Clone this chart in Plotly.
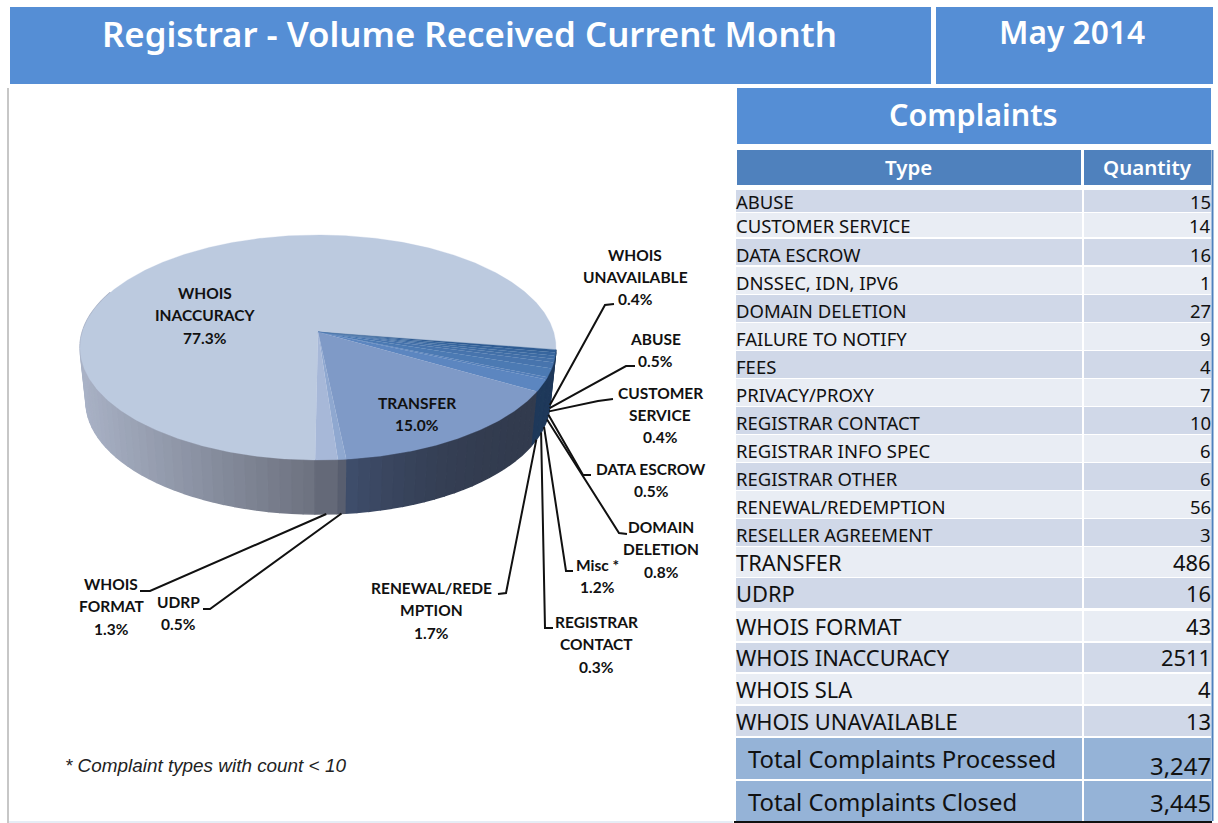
import math
import plotly.graph_objects as go

# ---------- data ----------
TYPES = ["ABUSE", "CUSTOMER SERVICE", "DATA ESCROW", "DNSSEC, IDN, IPV6", "DOMAIN DELETION",
         "FAILURE TO NOTIFY", "FEES", "PRIVACY/PROXY", "REGISTRAR CONTACT", "REGISTRAR INFO SPEC",
         "REGISTRAR OTHER", "RENEWAL/REDEMPTION", "RESELLER AGREEMENT", "TRANSFER", "UDRP",
         "WHOIS FORMAT", "WHOIS INACCURACY", "WHOIS SLA", "WHOIS UNAVAILABLE"]
QUANTITIES = [15, 14, 16, 1, 27, 9, 4, 7, 10, 6, 6, 56, 3, 486, 16, 43, 2511, 4, 13]
TOTAL_CLOSED = 3445
MISC_LIMIT = 10
PIE_ORDER = ["WHOIS INACCURACY", "WHOIS UNAVAILABLE", "ABUSE", "CUSTOMER SERVICE", "DATA ESCROW",
             "DOMAIN DELETION", "Misc", "REGISTRAR CONTACT", "RENEWAL/REDEMPTION", "TRANSFER",
             "UDRP", "WHOIS FORMAT"]

count = dict(zip(TYPES, QUANTITIES))
total = sum(QUANTITIES)
misc = sum(q for q in QUANTITIES if q < MISC_LIMIT)
pie_values = [misc if n == "Misc" else count[n] for n in PIE_ORDER]

# ---------- style / layout ----------
BLUE, HEAD, ODD, EVEN, TOT = "#558ed5", "#4f81bd", "#d0d8e8", "#e9edf4", "#95b3d7"
TABLE_FONT = "Noto Sans"
LABEL_FONT = "Lato"
TOP = {"WHOIS INACCURACY": "#bccadf", "WHOIS UNAVAILABLE": "#2f5c93", "ABUSE": "#38669e",
       "CUSTOMER SERVICE": "#3e6ca4", "DATA ESCROW": "#4370a8", "DOMAIN DELETION": "#4774ad",
       "Misc": "#4c7ab3", "REGISTRAR CONTACT": "#547fb9", "RENEWAL/REDEMPTION": "#5c86c0",
       "TRANSFER": "#7f9ac7", "UDRP": "#8fa8d0", "WHOIS FORMAT": "#a7b8d8"}
DARK = ("#1f3a5b", "#1d3759")
WALL = {"WHOIS INACCURACY": ("#6d7280", "#a9b2c6"), "TRANSFER": ("#323b4e", "#3f4e6c"),
        "UDRP": ("#555b6c", "#5a6172"), "WHOIS FORMAT": ("#5f6473", "#6a6e7c")}
CX, CY, A, B, K = 318.0, 332.0, 235.7, 110.4, 0.1378
DEPTH, SHRINK, ROT = 54.0, 0.975, 0.6


def top_pt(deg):
    p = math.radians(deg)
    u, v = -math.sin(p), math.cos(p)
    d = 1 - K * v
    return CX + A * u / d, CY + B * v / d


def bot_pt(deg):
    x, y = top_pt(deg)
    return CX + (x - CX) * SHRINK, y + DEPTH


def mix(c1, c2, t):
    a = [int(c1[i:i + 2], 16) for i in (1, 3, 5)]
    b = [int(c2[i:i + 2], 16) for i in (1, 3, 5)]
    return "#" + "".join(f"{round(p + (q - p) * t):02x}" for p, q in zip(a, b))


spans = {}
cum = ROT
for n, v in zip(PIE_ORDER, pie_values):
    spans[n] = (cum, cum + v / total * 360)
    cum = spans[n][1]

fig = go.Figure()


def poly(xs, ys, color, lw=0.6):
    fig.add_trace(go.Scatter(x=xs, y=ys, mode="lines", fill="toself", fillcolor=color,
                             line=dict(color=color, width=lw), hoverinfo="skip", showlegend=False))


# side wall
for n in PIE_ORDER:
    s, e = spans[n]
    if s < 180 < e:
        rng = [(s, 112.0)]
    elif e > 180:
        rng = [(max(s, 262.0), e)]
    else:
        rng = [(s, e)]
    c0, c1 = WALL.get(n, DARK)
    for lo, hi in rng:
        steps = max(1, int((hi - lo) / 2.5))
        for i in range(steps):
            a0 = lo + (hi - lo) * i / steps
            a1 = lo + (hi - lo) * (i + 1) / steps
            pts = [top_pt(a0), top_pt(a1), bot_pt(a1), bot_pt(a0)]
            t = (i + .5) / steps
            if n == "TRANSFER":
                t = t ** 3
            if n == "WHOIS INACCURACY":
                t = min(1, (CX - top_pt(a0)[0]) / 238)
                if a0 > 90:
                    t = 1
            poly([p[0] for p in pts], [p[1] for p in pts], mix(c0, c1, t), lw=1.5)

# top face
for n in PIE_ORDER:
    s, e = spans[n]
    steps = max(2, int((e - s) * 2))
    pts = [(CX, CY)] + [top_pt(s + (e - s) * i / steps) for i in range(steps + 1)]
    poly([p[0] for p in pts], [p[1] for p in pts], TOP[n], lw=0.3)

# leaders: (name, elbow, stub end)
LEADERS = [("WHOIS UNAVAILABLE", (605, 305), (614, 304)), ("ABUSE", (626, 366), (635, 366)),
           ("CUSTOMER SERVICE", (598, 401), (613, 399)), ("DATA ESCROW", (583, 475), (591, 475)),
           ("DOMAIN DELETION", (619, 533), (627, 534)), ("Misc", (566, 571), (573, 571)),
           ("REGISTRAR CONTACT", (545, 628), (553, 628)), ("RENEWAL/REDEMPTION", (506, 593), (498, 594)),
           ("UDRP", (210, 609), (203, 609)), ("WHOIS FORMAT", (150, 591), (140, 591))]
for n, el, end in LEADERS:
    s, e = spans[n]
    st = bot_pt((s + e) / 2)
    fig.add_trace(go.Scatter(x=[st[0], el[0], end[0]], y=[st[1], el[1], end[1]], mode="lines",
                             line=dict(color="#111111", width=2), hoverinfo="skip", showlegend=False))

shapes, ann = [], []


def rect(x0, y0, x1, y1, color):
    shapes.append(dict(type="rect", xref="x", yref="y", x0=x0, y0=y0, x1=x1, y1=y1,
                       fillcolor=color, line=dict(width=0), layer="below"))


def text(x, y, s, size, color="#111111", anchor="center", family=TABLE_FONT, weight=None, italic=False):
    f = dict(size=size, color=color, family=family)
    if weight:
        f["weight"] = weight
    if italic:
        f["style"] = "italic"
    ann.append(dict(x=x, y=y, xref="x", yref="y", text=s, showarrow=False, xanchor=anchor,
                    yanchor="middle", font=f, borderpad=0, borderwidth=0))


# banners
rect(10, 7, 931, 84, BLUE)
rect(936, 7, 1213, 84, BLUE)
rect(737, 88, 1211, 144, BLUE)
rect(737, 150, 1081, 185, HEAD)
rect(1084, 150, 1211, 185, HEAD)
text(469, 33.5, "Registrar - Volume Received Current Month", 34.8, "white", weight=600)
text(1072, 31, "May 2014", 31.7, "white", weight=600)
text(973, 114, "Complaints", 30.5, "white", weight=600)
text(908, 167, "Type", 20.5, "white", weight=600)
text(1147, 167, "Quantity", 20.5, "white", weight=600)

# table rows
ROW_TOPS = [190, 213, 239, 267, 295, 323, 351, 379, 407, 435, 463, 491, 519, 547, 578, 611, 643, 674, 706]
ROW_BOTS = [212, 237, 265, 294, 322, 350, 378, 406, 434, 462, 490, 518, 546, 577, 608, 641, 672, 704, 736]
for i, (n, q) in enumerate(zip(TYPES, QUANTITIES)):
    y0, y1 = ROW_TOPS[i], ROW_BOTS[i]
    col = ODD if i % 2 == 0 else EVEN
    rect(736, y0, 1082, y1, col)
    rect(1084, y0, 1211, y1, col)
    size = 18.5 if i < 13 else 21.9
    off = 2.5 if i == 2 else (1.5 if 3 <= i < 13 else (0.5 if i < 2 else 0))
    text(736, (y0 + y1) / 2 + off, n, size, anchor="left")
    text(1211, (y0 + y1) / 2 + off, str(q), size, anchor="right")

rect(736, 738, 1082, 779, TOT)
rect(1084, 738, 1211, 779, TOT)
rect(736, 781, 1082, 821, TOT)
rect(1084, 781, 1211, 821, TOT)
text(748, 758, "Total Complaints Processed", 23.9, anchor="left")
text(1211, 765, f"{total:,}", 23.9, anchor="right")
text(748, 801, "Total Complaints Closed", 23.9, anchor="left")
text(1211, 802, f"{TOTAL_CLOSED:,}", 23.9, anchor="right")

# frame lines
rect(7.5, 88, 8.5, 823, "#8f8f8f")
rect(9, 821, 733, 823, "#e6edf5")
rect(734, 821, 1212, 823, "#111111")
rect(1211.5, 150, 1213.5, 821, HEAD)

# pie labels: (name, label lines, centre x, first y, spacing)
LABELS = [("WHOIS INACCURACY", ["WHOIS", "INACCURACY"], 205, 293, 22.3),
          ("TRANSFER", ["TRANSFER"], 417, 403, 22),
          ("WHOIS UNAVAILABLE", ["WHOIS", "UNAVAILABLE"], 635, 255, 22),
          ("ABUSE", ["ABUSE"], 655, 339, 22),
          ("CUSTOMER SERVICE", ["CUSTOMER", "SERVICE"], 660, 393, 22),
          ("DATA ESCROW", ["DATA ESCROW"], 651, 469, 22),
          ("DOMAIN DELETION", ["DOMAIN", "DELETION"], 661, 527, 22.3),
          ("Misc", ["Misc *"], 597, 565, 22),
          ("REGISTRAR CONTACT", ["REGISTRAR", "CONTACT"], 596, 622, 22.3),
          ("RENEWAL/REDEMPTION", ["RENEWAL/REDE", "MPTION"], 431, 588, 22.3),
          ("WHOIS FORMAT", ["WHOIS", "FORMAT"], 111, 584, 22.3),
          ("UDRP", ["UDRP"], 178, 602, 22)]
pct = dict(zip(PIE_ORDER, pie_values))
for n, lines, cx, y, dy in LABELS:
    rows = lines + [f"{pct[n] / total * 100:.1f}%"]
    for j, row in enumerate(rows):
        text(cx, y + j * dy, row, 15.5, family=LABEL_FONT, weight=700)

text(65, 765, "* Complaint types with count &lt; 10", 18.9, "#222222", anchor="left",
     family="Liberation Sans", italic=True)

fig.update_layout(
    width=1218, height=823, margin=dict(l=0, r=0, t=0, b=0),
    paper_bgcolor="white", plot_bgcolor="white", showlegend=False,
    xaxis=dict(range=[0, 1218], visible=False, fixedrange=True),
    yaxis=dict(range=[823, 0], visible=False, fixedrange=True),
    shapes=shapes, annotations=ann,
)
fig.write_html("out.html", post_script="document.body.style.margin='0';document.documentElement.style.overflow='hidden';",
               config={"displayModeBar": False})
